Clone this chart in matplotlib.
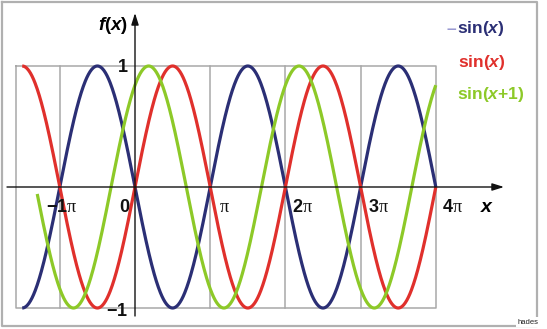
import numpy as np
import matplotlib.pyplot as plt

plt.rcParams["font.family"] = ["Liberation Sans", "DejaVu Sans"]
plt.rcParams["mathtext.fontset"] = "custom"
plt.rcParams["mathtext.rm"] = "Liberation Sans:bold"
plt.rcParams["mathtext.it"] = "Liberation Sans:bold:italic"
plt.rcParams["mathtext.sf"] = "Liberation Serif"

# curves: label, sign, phase shift, colour, x range (in multiples of pi)
labels = [r"$\mathrm{sin(}\mathit{x}\mathrm{)}$",
          r"$\mathrm{sin(}\mathit{x}\mathrm{)}$",
          r"$\mathrm{sin(}\mathit{x}\mathrm{+1)}$"]
signs = [-1, 1, 1]
phases = [0.0, 0.0, 1.0]
colors = ["#2b2f75", "#e0302c", "#8dc928"]
x_start = [-1.5, -1.5, -1.3]
x_end = [4.0, 4.0, 4.0]

xtick_vals = [-1, 0, 1, 2, 3, 4]
xtick_labels = [r"$-\mathrm{1}\mathsf{\pi}$", r"$\mathrm{0}$", r"$\mathsf{\pi}$",
                r"$\mathrm{2}\mathsf{\pi}$", r"$\mathrm{3}\mathsf{\pi}$", r"$\mathrm{4}\mathsf{\pi}$"]
ytick_vals = [1, -1]
ytick_labels = [r"$\mathrm{1}$", r"$-\mathrm{1}$"]

W, H = 547, 329
px_x0, px_pi = 135.0, 75.2   # pixel of x=0, pixels per pi
px_y0, px_unit = 187.0, 121.0


def px_to_data(px, py):
    return (px - px_x0) / px_pi * np.pi, (px_y0 - py) / px_unit


fig = plt.figure(figsize=(W / 100, H / 100), dpi=100)
ax = fig.add_axes([0, 0, 1, 1])
x0, y1 = px_to_data(0, 0)
x1, y0 = px_to_data(W, H)
ax.set_xlim(x0, x1)
ax.set_ylim(y0, y1)
ax.axis("off")

grid_c = "#a8a8a8"
# outer frame
fl, ft = px_to_data(2, 2)
fr, fb = px_to_data(537, 326)
ax.plot([fl, fr, fr, fl, fl], [ft, ft, fb, fb, ft], color="#b0b0b0", lw=1.6, clip_on=False)

# plot box and grid
bl, _ = px_to_data(16, 0)
ax.plot([bl, 4 * np.pi, 4 * np.pi, bl, bl], [1, 1, -1, -1, 1], color=grid_c, lw=1.1)
for k in [-1, 1, 2, 3]:
    ax.plot([k * np.pi, k * np.pi], [-1, 1], color=grid_c, lw=1.1)

# axes with arrows
ax_l, _ = px_to_data(7, 0)
ax_r, _ = px_to_data(504, 0)
_, ay_t = px_to_data(0, 13)
_, ay_b = px_to_data(0, 316)
ax.annotate("", xy=(ax_r, 0), xytext=(ax_l, 0),
            arrowprops=dict(arrowstyle="-|>,head_length=0.7,head_width=0.22", color="#111111", lw=1.0,
                            shrinkA=0, shrinkB=0))
ax.annotate("", xy=(0, ay_t), xytext=(0, ay_b),
            arrowprops=dict(arrowstyle="-|>,head_length=0.7,head_width=0.22", color="#111111", lw=1.0,
                            shrinkA=0, shrinkB=0))

# curves
for s, ph, c, xa, xb in zip(signs, phases, colors, x_start, x_end):
    xs = np.linspace(xa * np.pi, xb * np.pi, 800)
    ax.plot(xs, s * np.sin(xs + ph), color=c, lw=2.3, solid_capstyle="butt")

# tick labels
tick_px = [62, 125, 224, 302, 378, 452]
for v, lab, px in zip(xtick_vals, xtick_labels, tick_px):
    tx, ty = px_to_data(px, 207)
    ax.text(tx, ty, lab, fontsize=13, ha="center", va="center", color="#111111")
for v, lab, px, py in zip(ytick_vals, ytick_labels, [123, 117], [68, 311]):
    tx, _ = px_to_data(px, 0)
    _, ty = px_to_data(0, py)
    ax.text(tx, ty, lab, fontsize=13, ha="center", va="center", color="#111111")

# axis names
tx, ty = px_to_data(113, 25)
ax.text(tx, ty, r"$\mathit{f}\mathrm{(}\mathit{x}\mathrm{)}$", fontsize=13.5, ha="center", va="center")
tx, ty = px_to_data(487, 207)
ax.text(tx, ty, r"$\mathit{x}$", fontsize=14, ha="center", va="center")

# legend text
leg_pos = [(457, 28), (458, 62), (457, 95)]
for lab, c, (px, py) in zip(labels, colors, leg_pos):
    tx, ty = px_to_data(px, py)
    ax.text(tx, ty, lab, fontsize=12.5, ha="left", va="center", color=c)
tx, ty = px_to_data(451, 29)
ax.text(tx, ty, "\u2013", fontsize=12.5, fontweight="bold", ha="center", va="center", color="#9a9ad2")

tx, ty = px_to_data(528, 322)
ax.text(tx, ty, "hades", fontsize=5.5, ha="center", va="center", color="#222222",
        bbox=dict(facecolor="white", edgecolor="none", pad=1))

fig.savefig("out.png", dpi=100, facecolor="white")
